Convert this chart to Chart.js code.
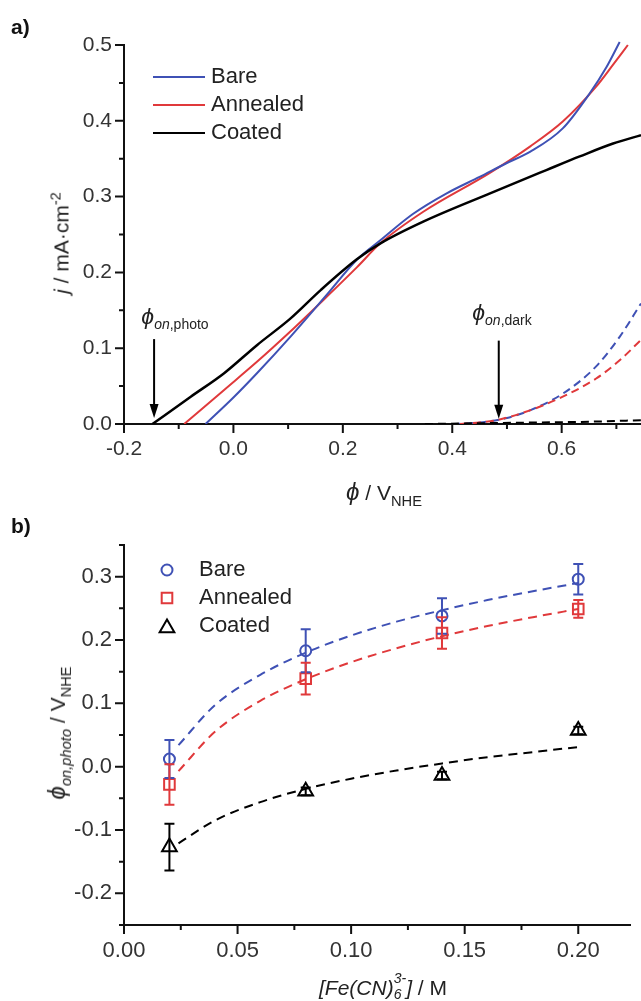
<!DOCTYPE html>
<html lang="en">
<head>
<meta charset="UTF-8">
<title>Photocurrent onset potentials</title>
<script src="https://cdn.jsdelivr.net/npm/chart.js"></script>
<style>
  body { margin: 0; background: #fff; }
  #wrap { position: relative; width: 641px; height: 1001px; overflow: hidden; }
  canvas { position: absolute; left: 0; }
  .lbl {
    position: absolute;
    font-family: 'Liberation Sans', Arial, sans-serif;
    color: #222;
    white-space: nowrap;
    line-height: 1;
    transform: translate(-50%, -50%);
  }
  .rot { transform: translate(-50%, -50%) rotate(-90deg); }
  .panel { font-weight: bold; font-size: 21px; transform: none; color: #111; }
  sub { font-size: 0.7em; vertical-align: -0.4em; line-height: 0; }
  sup { font-size: 0.7em; vertical-align: 0.55em; line-height: 0; }
  .phi { font-style: italic; font-size: 1.15em; }
  .stack { display: inline-flex; flex-direction: column; font-size: 14px; line-height: 16px; vertical-align: 12px; }
</style>
</head>
<body>
<div id="wrap">
  <canvas id="chartA" width="641" height="500" style="top:0"></canvas>
  <canvas id="chartB" width="641" height="501" style="top:500px"></canvas>

  <div class="lbl panel" style="left:11px; top:16px;">a)</div>
  <div class="lbl panel" style="left:11px; top:515px;">b)</div>

  <div class="lbl rot" style="left:61px; top:243px; font-size:21px;"><i>j</i> / mA·cm<sup>-2</sup></div>
  <div class="lbl" style="left:384px; top:492px; font-size:21px;"><span class="phi">ϕ</span> / V<sub>NHE</sub></div>
  <div class="lbl" style="left:175px; top:316px; font-size:20px;"><span class="phi">ϕ</span><sub><i>on</i>,photo</sub></div>
  <div class="lbl" style="left:502px; top:312px; font-size:20px;"><span class="phi">ϕ</span><sub><i>on</i>,dark</sub></div>

  <div class="lbl rot" style="left:57px; top:733px; font-size:21px;"><span class="phi">ϕ</span><sub><i>on,photo</i></sub> / V<sub>NHE</sub></div>
  <div class="lbl" style="left:383px; top:986px; font-size:21px;"><i>[Fe(CN)<span class="stack"><span>3-</span><span>6</span></span>]</i> / M</div>
</div>

<script>
// ---- panel a: j vs potential (light = solid, dark = dashed) ----
const bareX = [-0.051, 0.0, 0.043, 0.104, 0.170, 0.226, 0.268, 0.328, 0.389, 0.450, 0.499, 0.542, 0.602, 0.651, 0.682, 0.706];
const bareY = [0, 0.035, 0.067, 0.115, 0.170, 0.217, 0.242, 0.277, 0.304, 0.326, 0.344, 0.359, 0.390, 0.436, 0.471, 0.504];
const annealedX = [-0.090, -0.017, 0.043, 0.104, 0.165, 0.226, 0.268, 0.347, 0.468, 0.542, 0.602, 0.663, 0.694, 0.721];
const annealedY = [0, 0.045, 0.082, 0.122, 0.164, 0.207, 0.238, 0.280, 0.331, 0.366, 0.399, 0.445, 0.474, 0.500];
const coatedX = [-0.148, -0.078, -0.017, 0.043, 0.104, 0.160, 0.225, 0.268, 0.347, 0.468, 0.572, 0.633, 0.694, 0.745];
const coatedY = [0, 0.036, 0.067, 0.104, 0.139, 0.177, 0.217, 0.238, 0.267, 0.304, 0.335, 0.353, 0.370, 0.381];

const bareDarkX = [0.40, 0.45, 0.50, 0.542, 0.602, 0.663, 0.706, 0.745];
const bareDarkY = [0, 0.002, 0.008, 0.018, 0.040, 0.076, 0.115, 0.159];
const annealedDarkX = [0.414, 0.45, 0.481, 0.542, 0.602, 0.663, 0.706, 0.745];
const annealedDarkY = [0, 0.002, 0.005, 0.018, 0.036, 0.060, 0.084, 0.111];
const coatedDarkX = [0.35, 0.45, 0.55, 0.65, 0.745];
const coatedDarkY = [0, 0.001, 0.002, 0.003, 0.005];

// onset arrows: potential, arrow tail j, arrow tip j
const arrowX = [-0.145, 0.485];
const arrowTail = [0.112, 0.110];
const arrowTip = [0.008, 0.007];

const aXTicks = [-0.2, 0.0, 0.2, 0.4, 0.6];
const aXMinor = [-0.1, 0.1, 0.3, 0.5, 0.7];
const aYTicks = [0.0, 0.1, 0.2, 0.3, 0.4, 0.5];
const aYMinor = [0.05, 0.15, 0.25, 0.35, 0.45];

// ---- panel b: onset potential vs ferricyanide concentration ----
const concX = [0.02, 0.08, 0.14, 0.20];
const bareOn = [0.012, 0.183, 0.238, 0.296];
const bareErr = [0.030, 0.034, 0.028, 0.024];
const annealedOn = [-0.028, 0.139, 0.211, 0.249];
const annealedErr = [0.032, 0.025, 0.025, 0.014];
const coatedOn = [-0.127, -0.039, -0.014, 0.057];
const coatedErr = [0.037, 0.006, 0.006, 0.006];

const fitX = [0.024, 0.04, 0.06, 0.08, 0.10, 0.12, 0.14, 0.16, 0.18, 0.20];
const bareFit = [0.034, 0.097, 0.145, 0.180, 0.207, 0.229, 0.247, 0.263, 0.277, 0.290];
const annealedFit = [-0.007, 0.055, 0.104, 0.138, 0.165, 0.187, 0.206, 0.222, 0.236, 0.249];
const coatedFit = [-0.121, -0.085, -0.056, -0.035, -0.019, -0.006, 0.005, 0.015, 0.023, 0.031];

const bXTicks = [0.00, 0.05, 0.10, 0.15, 0.20];
const bXMinor = [0.025, 0.075, 0.125, 0.175, 0.225];
const bYTicks = [-0.2, -0.1, 0.0, 0.1, 0.2, 0.3];
const bYMinor = [-0.25, -0.15, -0.05, 0.05, 0.15, 0.25, 0.35];

const seriesNames = ['Bare', 'Annealed', 'Coated'];
const BLUE = '#3f51b5';
const RED = '#e0393b';
const BLACK = '#000';
const FONT = "'Liberation Sans', Arial, sans-serif";

const pts = (xs, ys) => xs.map((x, i) => ({ x: x, y: ys[i] }));

function axes(xMin, xMax, yMin, yMax, xTicks, yTicks, xDec, yDec, size) {
  return {
    x: {
      type: 'linear', min: xMin, max: xMax,
      afterBuildTicks: s => { s.ticks = xTicks.map(v => ({ value: v })); },
      afterFit: s => { s.height = 76; },
      grid: { display: false, drawTicks: false },
      border: { display: true, color: '#111', width: 2 },
      ticks: { callback: v => v.toFixed(xDec), padding: 13, color: '#333', autoSkip: false, maxRotation: 0, font: { family: FONT, size: size } }
    },
    y: {
      type: 'linear', min: yMin, max: yMax,
      afterBuildTicks: s => { s.ticks = yTicks.map(v => ({ value: v })); },
      afterFit: s => { s.width = 124; },
      grid: { display: false, drawTicks: false },
      border: { display: true, color: '#111', width: 2 },
      ticks: { callback: v => v.toFixed(yDec), padding: 12, color: '#333', autoSkip: false, font: { family: FONT, size: size } }
    }
  };
}

// tick marks, major (long) and minor (short), outside the axes
function tickPlugin(xMaj, xMin, yMaj, yMin) {
  return {
    id: 'ticks',
    afterDraw(chart) {
      const { ctx, chartArea: a, scales: { x, y } } = chart;
      ctx.save();
      ctx.strokeStyle = '#111';
      ctx.lineWidth = 2;
      ctx.beginPath();
      xMaj.forEach(v => { const p = x.getPixelForValue(v); ctx.moveTo(p, a.bottom); ctx.lineTo(p, a.bottom + 9); });
      xMin.forEach(v => { const p = x.getPixelForValue(v); if (p < a.right) { ctx.moveTo(p, a.bottom); ctx.lineTo(p, a.bottom + 5); } });
      yMaj.forEach(v => { const p = y.getPixelForValue(v); ctx.moveTo(a.left, p); ctx.lineTo(a.left - 9, p); });
      yMin.forEach(v => { const p = y.getPixelForValue(v); ctx.moveTo(a.left, p); ctx.lineTo(a.left - 5, p); });
      ctx.stroke();
      ctx.restore();
    }
  };
}

function marker(ctx, style, cx, cy, r) {
  ctx.beginPath();
  if (style === 'circle') {
    ctx.arc(cx, cy, r, 0, Math.PI * 2);
  } else if (style === 'rect') {
    const s = Math.SQRT1_2 * r;
    ctx.rect(cx - s, cy - s, 2 * s, 2 * s);
  } else {
    ctx.moveTo(cx, cy - r);
    ctx.lineTo(cx + r * Math.cos(Math.PI / 6), cy + r / 2);
    ctx.lineTo(cx - r * Math.cos(Math.PI / 6), cy + r / 2);
    ctx.closePath();
  }
  ctx.stroke();
}

// ---------- chart a ----------
const lineDs = (label, xs, ys, color, width) => ({
  label: label, data: pts(xs, ys), showLine: true, borderColor: color, borderWidth: width,
  pointRadius: 0, cubicInterpolationMode: 'monotone', clip: { left: 0, top: 10, right: 0, bottom: 0 }
});
const darkDs = (xs, ys, color) => ({
  data: pts(xs, ys), showLine: true, borderColor: color, borderWidth: 2, borderDash: [8, 5],
  pointRadius: 0, cubicInterpolationMode: 'monotone'
});

const annotA = {
  id: 'annotA',
  afterDatasetsDraw(chart) {
    const { ctx, scales: { x, y } } = chart;
    ctx.save();
    ctx.strokeStyle = '#000';
    ctx.fillStyle = '#000';
    ctx.lineWidth = 2;
    arrowX.forEach((v, i) => {
      const px = x.getPixelForValue(v);
      const y0 = y.getPixelForValue(arrowTail[i]);
      const y1 = y.getPixelForValue(arrowTip[i]);
      ctx.beginPath(); ctx.moveTo(px, y0); ctx.lineTo(px, y1 - 12); ctx.stroke();
      ctx.beginPath(); ctx.moveTo(px - 4.5, y1 - 14); ctx.lineTo(px + 4.5, y1 - 14); ctx.lineTo(px, y1); ctx.closePath(); ctx.fill();
    });
    // legend
    const colors = [BLUE, RED, BLACK];
    ctx.font = '22px ' + FONT;
    ctx.textBaseline = 'middle';
    seriesNames.forEach((n, i) => {
      const ly = 77 + i * 28;
      ctx.strokeStyle = colors[i];
      ctx.lineWidth = 2;
      ctx.beginPath(); ctx.moveTo(153, ly); ctx.lineTo(205, ly); ctx.stroke();
      ctx.fillStyle = '#222';
      ctx.fillText(n, 211, ly);
    });
    ctx.restore();
  }
};

new Chart(document.getElementById('chartA'), {
  type: 'scatter',
  data: {
    datasets: [
      darkDs(coatedDarkX, coatedDarkY, BLACK),
      darkDs(annealedDarkX, annealedDarkY, RED),
      darkDs(bareDarkX, bareDarkY, BLUE),
      lineDs('Coated', coatedX, coatedY, BLACK, 2.5),
      lineDs('Bare', bareX, bareY, BLUE, 2),
      lineDs('Annealed', annealedX, annealedY, RED, 2)
    ]
  },
  options: {
    responsive: false,
    animation: false,
    layout: { padding: { left: 0, right: 0, top: 45, bottom: 0 } },
    plugins: { legend: { display: false }, tooltip: { enabled: false } },
    scales: axes(-0.2, 0.745, 0, 0.5, aXTicks, aYTicks, 1, 1, 21)
  },
  plugins: [tickPlugin(aXTicks, aXMinor, aYTicks, aYMinor), annotA]
});

// ---------- chart b ----------
const fitDs = (ys, color) => ({
  data: pts(fitX, ys), showLine: true, borderColor: color, borderWidth: 2, borderDash: [9, 6],
  pointRadius: 0, cubicInterpolationMode: 'monotone'
});
const markDs = (label, ys, color, style, r) => ({
  label: label, data: pts(concX, ys), showLine: false, borderColor: color, backgroundColor: 'rgba(0,0,0,0)',
  pointStyle: style, pointRadius: r, pointBorderWidth: 2
});

const bSeries = [
  { vals: bareOn, err: bareErr, color: BLUE, style: 'circle', r: 5.5 },
  { vals: annealedOn, err: annealedErr, color: RED, style: 'rect', r: 7.5 },
  { vals: coatedOn, err: coatedErr, color: BLACK, style: 'triangle', r: 8.5 }
];

const annotB = {
  id: 'annotB',
  afterDatasetsDraw(chart) {
    const { ctx, scales: { x, y } } = chart;
    ctx.save();
    ctx.lineWidth = 2;
    bSeries.forEach(s => {
      ctx.strokeStyle = s.color;
      ctx.beginPath();
      concX.forEach((c, i) => {
        const px = x.getPixelForValue(c);
        const top = y.getPixelForValue(s.vals[i] + s.err[i]);
        const bot = y.getPixelForValue(s.vals[i] - s.err[i]);
        ctx.moveTo(px, top); ctx.lineTo(px, bot);
        ctx.moveTo(px - 5, top); ctx.lineTo(px + 5, top);
        ctx.moveTo(px - 5, bot); ctx.lineTo(px + 5, bot);
      });
      ctx.stroke();
    });
    // legend
    ctx.font = '22px ' + FONT;
    ctx.textBaseline = 'middle';
    seriesNames.forEach((n, i) => {
      const ly = 70 + i * 28;
      const s = bSeries[i];
      ctx.strokeStyle = s.color;
      ctx.lineWidth = 2;
      marker(ctx, s.style, 167, s.style === 'triangle' ? ly + 2 : ly, s.r);
      ctx.fillStyle = '#222';
      ctx.fillText(n, 199, ly);
    });
    ctx.restore();
  }
};

new Chart(document.getElementById('chartB'), {
  type: 'scatter',
  data: {
    datasets: [
      fitDs(bareFit, BLUE),
      fitDs(annealedFit, RED),
      fitDs(coatedFit, BLACK),
      markDs('Bare', bareOn, BLUE, 'circle', 5.5),
      markDs('Annealed', annealedOn, RED, 'rect', 7.5),
      markDs('Coated', coatedOn, BLACK, 'triangle', 8.5)
    ]
  },
  options: {
    responsive: false,
    animation: false,
    layout: { padding: { left: 0, right: 0, top: 45, bottom: 0 } },
    plugins: { legend: { display: false }, tooltip: { enabled: false } },
    scales: axes(0, 0.223, -0.25, 0.35, bXTicks, bYTicks, 2, 1, 22)
  },
  plugins: [tickPlugin(bXTicks, bXMinor, bYTicks, bYMinor), annotB]
});
</script>
</body>
</html>
